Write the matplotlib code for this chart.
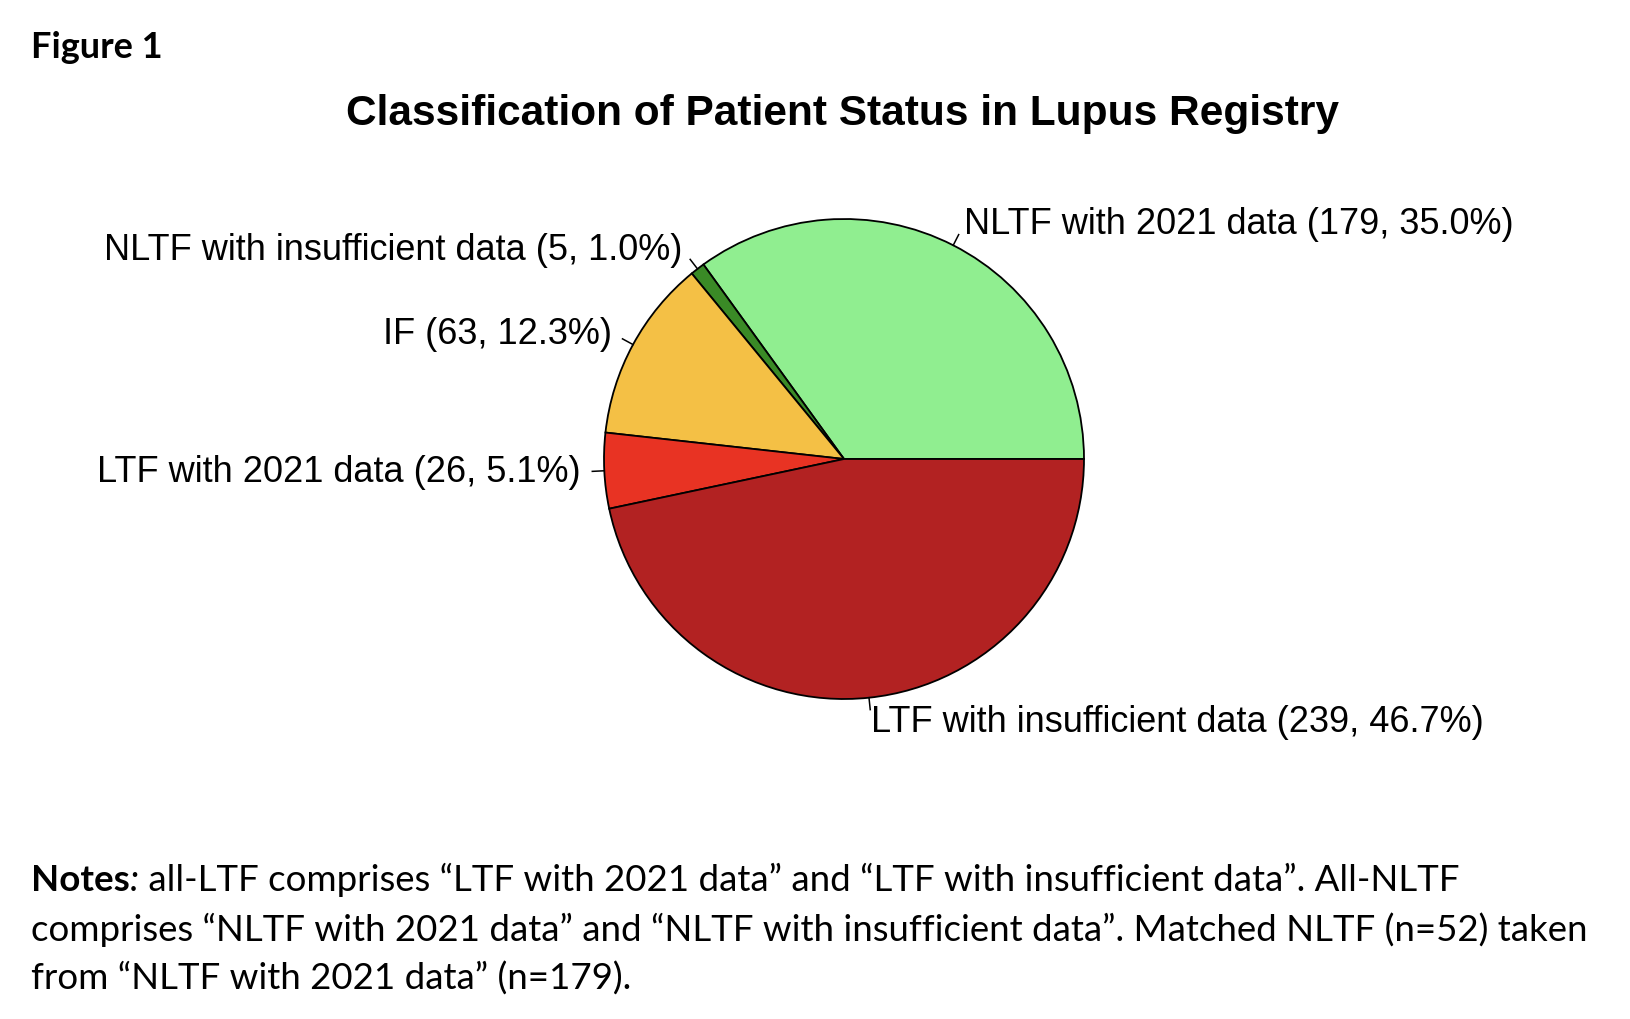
import numpy as np
import matplotlib
matplotlib.use("Agg")
import matplotlib.pyplot as plt

# slices in drawing order (counter-clockwise from 3 o'clock)
labels = [
    "NLTF with 2021 data",
    "NLTF with insufficient data",
    "IF",
    "LTF with 2021 data",
    "LTF with insufficient data",
]
counts = [179, 5, 63, 26, 239]
percents = [35.0, 1.0, 12.3, 5.1, 46.7]
colors = ["#90EE90", "#3A8A26", "#F4C045", "#E83323", "#B22222"]

title = "Classification of Patient Status in Lupus Registry"
notes_lines = [
    "all-LTF comprises \u201cLTF with 2021 data\u201d and \u201cLTF with insufficient data\u201d. All-NLTF",
    "comprises \u201cNLTF with 2021 data\u201d and \u201cNLTF with insufficient data\u201d. Matched NLTF (n=52) taken",
    "from \u201cNLTF with 2021 data\u201d (n=179).",
]

W, H = 1630, 1020
fig = plt.figure(figsize=(W / 100, H / 100), dpi=100)
ax = fig.add_axes([0, 0, 1, 1])

cx, cy, r = 844, H - 460, 240
wedges, _ = ax.pie(
    counts,
    colors=colors,
    startangle=0,
    counterclock=True,
    radius=r,
    center=(cx, cy),
    wedgeprops=dict(edgecolor="black", linewidth=1.3),
    frame=True,
)
ax.set_xlim(0, W)
ax.set_ylim(0, H)
ax.set_aspect("auto")
ax.axis("off")

lab_font = "Liberation Sans"
for w, lab, n, p in zip(wedges, labels, counts, percents):
    mid = np.deg2rad((w.theta1 + w.theta2) / 2)
    ux, uy = np.cos(mid), np.sin(mid)
    ax.plot([cx + r * ux, cx + 1.05 * r * ux], [cy + r * uy, cy + 1.05 * r * uy],
            color="black", lw=1.1)
    ax.text(cx + 1.1 * r * ux, cy + 1.1 * r * uy, f"{lab} ({n}, {p:.1f}%)",
            ha="left" if ux > 0 else "right", va="center",
            fontsize=26, family=lab_font)

ax.text(843, H - 114, title, ha="center", va="center", fontsize=30.5,
        fontweight="bold", family=lab_font)

ax.text(31, H - 47, "Figure 1", ha="left", va="center", fontsize=26,
        fontweight="bold", family="Lato")

# notes paragraph
note_font = "Lato"
note_size = 26.4
y0 = H - 881
t1 = ax.text(31, y0, "Notes", ha="left", va="center", fontsize=note_size,
             fontweight="bold", family=note_font)
t2 = ax.annotate(":", xy=(1, 0), xycoords=t1, ha="left", va="bottom",
                 fontsize=note_size, style="italic", family=note_font)
ax.annotate(" " + notes_lines[0], xy=(1, 0), xycoords=t2, ha="left", va="bottom",
            fontsize=note_size, family=note_font)
for i, line in enumerate(notes_lines[1:], start=1):
    ax.text(31, y0 - 49 * i, line, ha="left", va="center", fontsize=note_size,
            family=note_font)

fig.savefig("out.png", dpi=100, facecolor="white")
